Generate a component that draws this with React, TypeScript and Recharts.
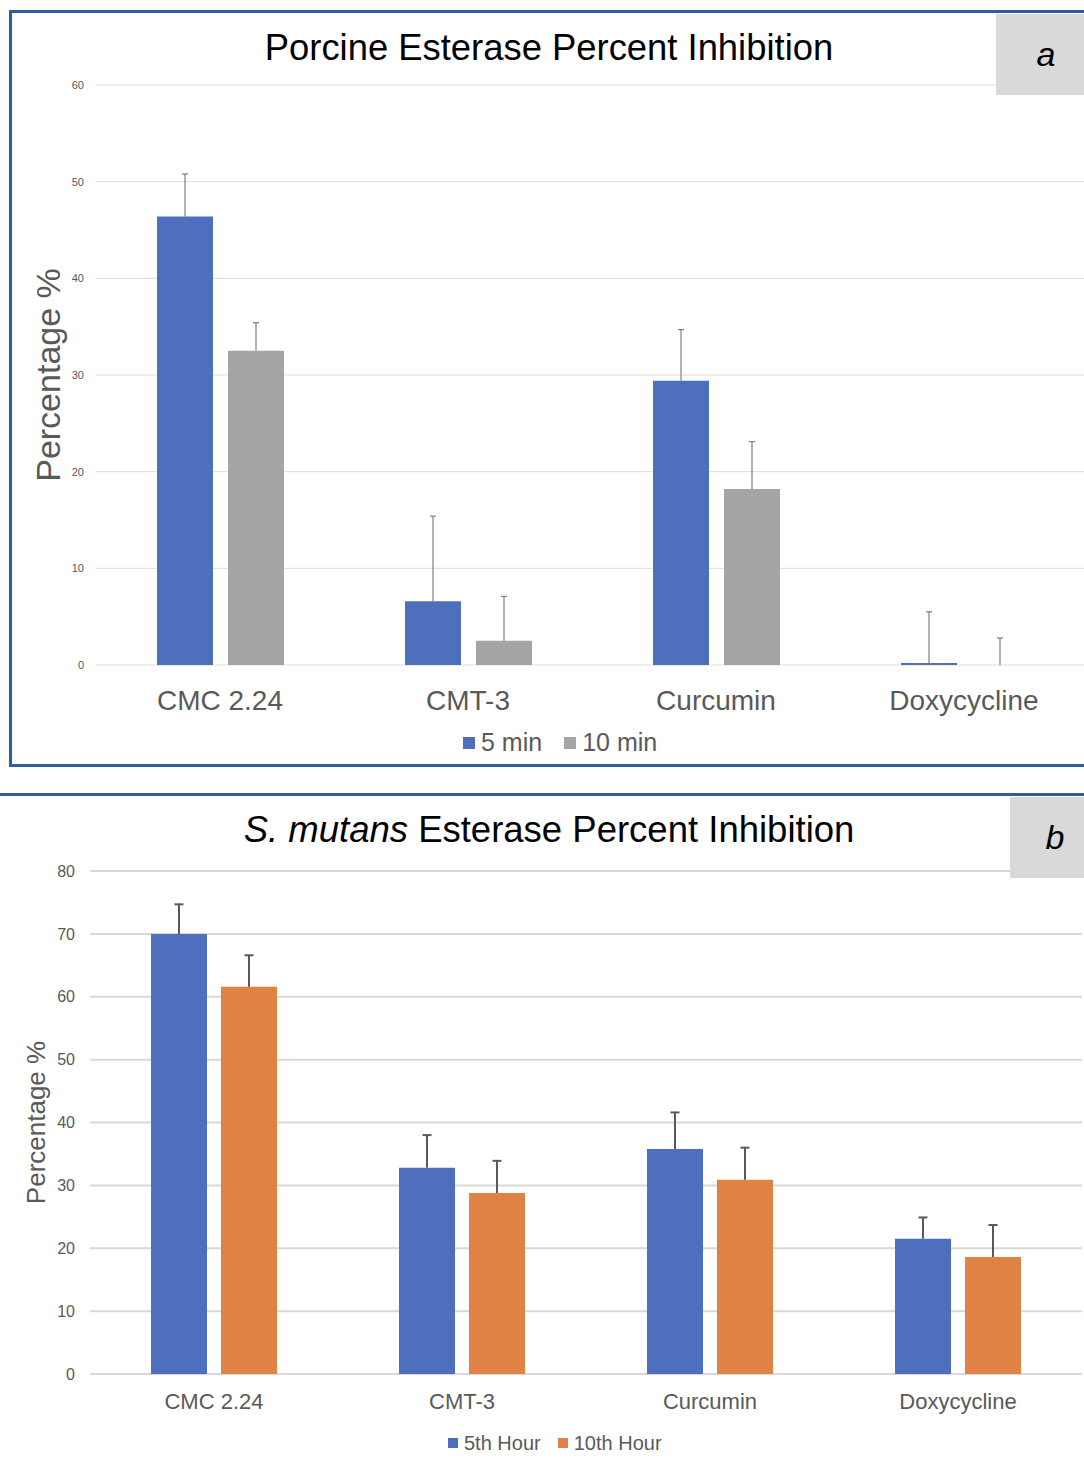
import { BarChart, Bar, XAxis, YAxis, CartesianGrid, Label } from "recharts";

const CATEGORIES = ["CMC 2.24", "CMT-3", "Curcumin", "Doxycycline"];

// panel a: porcine esterase
const PORCINE_5MIN = [46.4, 6.6, 29.4, 0.2];
const PORCINE_5MIN_ERR = [4.4, 8.8, 5.3, 5.3];
const PORCINE_10MIN = [32.5, 2.5, 18.2, 0];
const PORCINE_10MIN_ERR = [2.9, 4.6, 4.9, 2.8];
const PORCINE_TICKS = [0, 10, 20, 30, 40, 50, 60];

// panel b: S. mutans esterase
const MUTANS_5H = [70.0, 32.8, 35.8, 21.5];
const MUTANS_5H_ERR = [4.7, 5.2, 5.8, 3.4];
const MUTANS_10H = [61.6, 28.8, 30.9, 18.6];
const MUTANS_10H_ERR = [5.0, 5.1, 5.1, 5.1];
const MUTANS_TICKS = [0, 10, 20, 30, 40, 50, 60, 70, 80];

const FONT = '"Liberation Sans", Arial, Helvetica, sans-serif';
const BLUE = "#4e6fbd";
const GREY = "#a5a5a5";
const ORANGE = "#df8244";
const FRAME = "#2f5c9b";
const TEXT = "#595959";

const porcineData = CATEGORIES.map((name, i) => ({
  name,
  a: PORCINE_5MIN[i],
  aErr: PORCINE_5MIN_ERR[i],
  b: PORCINE_10MIN[i],
  bErr: PORCINE_10MIN_ERR[i],
}));

const mutansData = CATEGORIES.map((name, i) => ({
  name,
  a: MUTANS_5H[i],
  aErr: MUTANS_5H_ERR[i],
  b: MUTANS_10H[i],
  bErr: MUTANS_10H_ERR[i],
}));

// upper-only error bar: stacked on top of the value bar, drawn as a whisker + cap
const whisker = (cap: number, stroke: string, sw: number) => (props: any) => {
  const { x, y, width, height } = props;
  if (height == null || isNaN(height)) return <g />;
  const cx = x + width / 2;
  return (
    <g>
      <line x1={cx} y1={y} x2={cx} y2={y + height} stroke={stroke} strokeWidth={sw} />
      <line x1={cx - cap / 2} y1={y} x2={cx + cap / 2} y2={y} stroke={stroke} strokeWidth={sw} />
    </g>
  );
};

function LegendRow({ items, left, top, fontSize, box, gap }: any) {
  return (
    <div
      style={{
        position: "absolute",
        left,
        top,
        display: "flex",
        alignItems: "center",
        fontFamily: FONT,
        fontSize,
        color: TEXT,
        whiteSpace: "nowrap",
        lineHeight: 1,
      }}
    >
      {items.map((it: any, i: number) => (
        <div key={it.label} style={{ display: "flex", alignItems: "center", marginLeft: i ? gap : 0 }}>
          <span style={{ width: box, height: box, background: it.color, marginRight: 6, display: "inline-block" }} />
          <span>{it.label}</span>
        </div>
      ))}
    </div>
  );
}

function CornerTag({ letter, left, top, width, height }: any) {
  return (
    <div
      style={{
        position: "absolute",
        left,
        top,
        width,
        height,
        background: "#d9d9d9",
        display: "flex",
        alignItems: "center",
        justifyContent: "center",
        fontFamily: FONT,
        fontStyle: "italic",
        fontSize: 34,
        color: "#000",
      }}
    >
      {letter}
    </div>
  );
}

export default function App() {
  return (
    <div style={{ position: "relative", width: 1084, height: 1468, overflow: "hidden", background: "#fff" }}>
      <style>{"body{margin:0}"}</style>

      {/* panel a */}
      <div style={{ position: "absolute", left: 0, top: 0 }}>
        <BarChart
          width={1092}
          height={770}
          data={porcineData}
          margin={{ top: 85, right: 4, bottom: 75, left: 0 }}
          barSize={56}
          barGap={15}
        >
          <CartesianGrid vertical={false} stroke="#dcdcdc" />
          <XAxis
            dataKey="name"
            interval={0}
            height={30}
            axisLine={false}
            tickLine={false}
            tickSize={0}
            tickMargin={25}
            tick={{ fontSize: 28, fill: TEXT, fontFamily: FONT }}
          />
          <YAxis
            width={96}
            domain={[0, 60]}
            ticks={PORCINE_TICKS}
            allowDataOverflow
            axisLine={false}
            tickLine={false}
            tickSize={0}
            tickMargin={12}
            tick={{ fontSize: 11, fill: TEXT, fontFamily: FONT }}
          >
            <Label value="Percentage %" angle={-90} position="center" fontSize={34} fill={TEXT} fontFamily={FONT} />
          </YAxis>
          <Bar dataKey="a" stackId="s5" fill={BLUE} isAnimationActive={false} />
          <Bar dataKey="aErr" stackId="s5" shape={whisker(6, "#7f7f7f", 1.2)} isAnimationActive={false} />
          <Bar dataKey="b" stackId="s10" fill={GREY} isAnimationActive={false} />
          <Bar dataKey="bErr" stackId="s10" shape={whisker(6, "#7f7f7f", 1.2)} isAnimationActive={false} />
        </BarChart>
      </div>

      <div
        style={{
          position: "absolute",
          left: 9,
          top: 10,
          width: 1100,
          height: 757,
          border: `3px solid ${FRAME}`,
          boxSizing: "border-box",
        }}
      />
      <div
        style={{
          position: "absolute",
          left: 0,
          width: 1098,
          top: 26,
          textAlign: "center",
          fontFamily: FONT,
          fontSize: 36.4,
          color: "#000",
          lineHeight: "44px",
        }}
      >
        Porcine Esterase Percent Inhibition
      </div>
      <CornerTag letter="a" left={996} top={14} width={100} height={81} />
      <LegendRow
        items={[
          { label: "5 min", color: BLUE },
          { label: "10 min", color: GREY },
        ]}
        left={463}
        top={730}
        fontSize={25}
        box={12}
        gap={22}
      />

      {/* panel b */}
      <div style={{ position: "absolute", left: 0, top: 780 }}>
        <BarChart
          width={1084}
          height={688}
          data={mutansData}
          margin={{ top: 91, right: 2, bottom: 64, left: 0 }}
          barSize={56}
          barGap={14}
        >
          <CartesianGrid vertical={false} stroke="#d9d9d9" strokeWidth={2} />
          <XAxis
            dataKey="name"
            interval={0}
            height={30}
            axisLine={false}
            tickLine={false}
            tickSize={0}
            tickMargin={19}
            tick={{ fontSize: 22, fill: TEXT, fontFamily: FONT }}
          />
          <YAxis
            width={90}
            domain={[0, 80]}
            ticks={MUTANS_TICKS}
            allowDataOverflow
            axisLine={false}
            tickLine={false}
            tickSize={0}
            tickMargin={15}
            tick={{ fontSize: 16, fill: TEXT, fontFamily: FONT }}
          >
            <Label value="Percentage %" angle={-90} position="center" dx={-9} fontSize={26} fill={TEXT} fontFamily={FONT} />
          </YAxis>
          <Bar dataKey="a" stackId="s5" fill={BLUE} isAnimationActive={false} />
          <Bar dataKey="aErr" stackId="s5" shape={whisker(9, TEXT, 2)} isAnimationActive={false} />
          <Bar dataKey="b" stackId="s10" fill={ORANGE} isAnimationActive={false} />
          <Bar dataKey="bErr" stackId="s10" shape={whisker(9, TEXT, 2)} isAnimationActive={false} />
        </BarChart>
      </div>

      <div style={{ position: "absolute", left: 0, top: 793, width: 1084, height: 3, background: FRAME }} />
      <div
        style={{
          position: "absolute",
          left: 0,
          width: 1098,
          top: 808,
          textAlign: "center",
          fontFamily: FONT,
          fontSize: 36.5,
          color: "#000",
          lineHeight: "44px",
        }}
      >
        <i>S. mutans</i> Esterase Percent Inhibition
      </div>
      <CornerTag letter="b" left={1010} top={797} width={90} height={81} />
      <LegendRow
        items={[
          { label: "5th Hour", color: BLUE },
          { label: "10th Hour", color: ORANGE },
        ]}
        left={448}
        top={1433}
        fontSize={20}
        box={10}
        gap={17}
      />
    </div>
  );
}
